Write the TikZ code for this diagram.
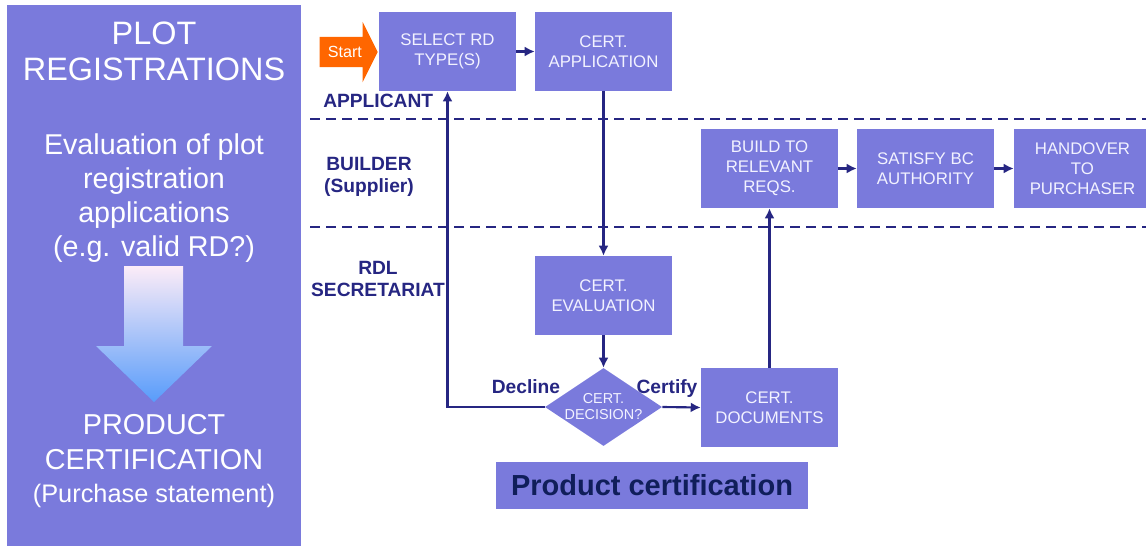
\documentclass[tikz,border=0pt]{standalone}
\usepackage{fontspec}
\setmainfont{Liberation Sans}
\usetikzlibrary{arrows.meta,shapes.geometric,shapes.arrows}
\definecolor{boxblue}{RGB}{122,122,220}
\definecolor{lanenavy}{RGB}{38,38,130}
\definecolor{headnavy}{RGB}{16,30,90}
\definecolor{boxtext}{RGB}{242,242,255}
\definecolor{startorange}{RGB}{255,102,0}
\definecolor{shadetop}{RGB}{252,236,248}
\definecolor{shademid}{RGB}{176,204,240}
\definecolor{shadebot}{RGB}{88,156,250}

\begin{document}
\begin{tikzpicture}[x=0.75pt,y=-0.75pt,
		stagebox/.style={fill=boxblue,text=boxtext,align=center,inner sep=0pt,
			minimum width=102.75pt,minimum height=59.25pt,font=\fontsize{12.6}{15}\selectfont},
		lanelabel/.style={text=lanenavy,align=center,inner sep=0pt,
			font=\fontsize{14.4}{16.5}\selectfont\bfseries},
		paneltext/.style={text=white,align=center,inner sep=0pt},
		flow/.style={lanenavy,line width=1.6pt,-{Latex[length=7.5pt,width=7.5pt]}},
		lane/.style={lanenavy,line width=1.6pt,dash pattern=on 7.5pt off 4.5pt}]
		\useasboundingbox (0,0) rectangle (1146,546);
		
		% Left panel with the plot registration summary
		\node[fill=boxblue,minimum width=220.5pt,minimum height=405.75pt,inner sep=0pt] (panel) at (154,275.5) {};
		\node[paneltext,font=\fontsize{24.3}{27}\selectfont] (plotreg) at (154,51) {PLOT\\REGISTRATIONS};
		\node[paneltext,font=\fontsize{21.5}{25.5}\selectfont] (evaltext) at (154,198.5)
			{Evaluation of plot\\registration\\applications\\(e.g. valid RD?)};
		\node[paneltext,font=\fontsize{21.6}{26.25}\selectfont] (prodtext) at (154,442.5) {PRODUCT\\CERTIFICATION};
		\node[paneltext,font=\fontsize{19}{22}\selectfont] (purchtext) at (154,495.5) {(Purchase statement)};
		
		% Shaded arrow down the panel
		\shade[top color=shadetop,middle color=shademid,bottom color=shadebot]
			(124,266) -- (183,266) -- (183,346) -- (212,346) -- (154,402) -- (96,346) -- (124,346) -- cycle;
		
		% Lane separators
		\draw[lane] (310,119) -- (1146,119);
		\draw[lane] (310,227) -- (1146,227);
		
		% Lane labels
		\node[lanelabel,anchor=west] (applicant) at (323,101) {APPLICANT};
		\node[lanelabel] (builder) at (369,177) {BUILDER\\(Supplier)};
		\node[lanelabel] (secretariat) at (378,279) {RDL\\SECRETARIAT};
		
		% Start arrow
		\node[single arrow,fill=startorange,text=white,anchor=tip,inner xsep=2pt,inner ysep=6.9pt,
			minimum height=43.5pt,single arrow head extend=11.25pt,
			single arrow tip angle=127,single arrow head indent=0pt,
			font=\fontsize{12.1}{13}\selectfont] (start) at (378,52) {Start};
		
		% Process steps
		\node[stagebox] (select) at (447.5,51.5) {SELECT RD\\TYPE(S)};
		\node[stagebox] (application) at (603.5,51.5) {CERT.\\APPLICATION};
		\node[stagebox] (evaluation) at (603.5,295.5) {CERT.\\EVALUATION};
		\node[diamond,fill=boxblue,text=boxtext,align=center,inner sep=0pt,shape aspect=1.5,
			minimum width=87.75pt,minimum height=58.5pt,
			font=\fontsize{10.8}{12}\selectfont] (decision) at (603.5,407) {CERT.\\DECISION?};
		\node[stagebox] (documents) at (769.5,407.5) {CERT.\\DOCUMENTS};
		\node[stagebox] (build) at (769.5,168.5) {BUILD TO\\RELEVANT\\REQS.};
		\node[stagebox] (satisfy) at (925.5,168.5) {SATISFY BC\\AUTHORITY};
		\node[stagebox] (handover) at (1082.5,168.5) {HANDOVER\\TO\\PURCHASER};
		
		% Connectors between the steps
		\draw[flow] (select) -- (application);
		\draw[flow] (application) -- (evaluation);
		\draw[flow] (evaluation) -- (decision);
		\draw[flow] (decision.east) -- (documents.west);
		\draw[flow] (decision.west) -| (select.south);
		\draw[flow] (documents) -- (build);
		\draw[flow] (build) -- (satisfy);
		\draw[flow] (satisfy) -- (handover);
		
		% Decision labels
		\node[lanelabel] (decline) at (526,387) {Decline};
		\node[lanelabel] (certify) at (667,389) {Certify};
		
		% Caption box
		\node[fill=boxblue,text=headnavy,minimum width=234pt,minimum height=35.25pt,
			font=\fontsize{21.75}{26}\selectfont\bfseries] (caption) at (652,485.5) {Product certification};
	\end{tikzpicture}
\end{document}
